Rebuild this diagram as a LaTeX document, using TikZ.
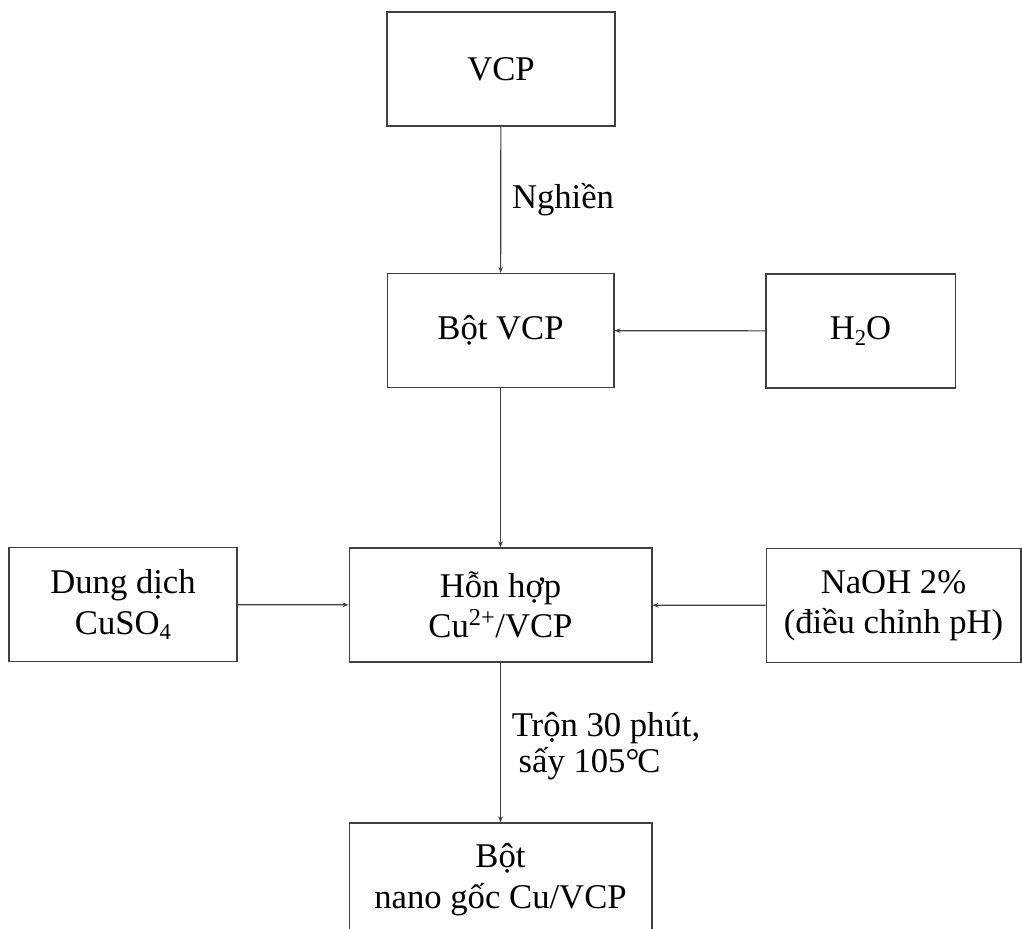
\documentclass[tikz,border=0pt]{standalone}
\usepackage{fontspec}
\setmainfont{Liberation Serif}
\usetikzlibrary{arrows.meta,positioning}
\newcommand{\chemsub}[1]{\raisebox{-0.32ex}{\fontsize{17}{17}\selectfont #1}}

\begin{document}
\begin{tikzpicture}[x=0.75pt, y=-0.75pt,
  every node/.style={font=\fontsize{26}{30.5}\selectfont},
  box/.style={draw=black!75, line width=1pt, align=center, inner sep=0pt, minimum height=85.5pt},
  link/.style={draw=black!75, line width=0.9pt, -{Stealth[length=4.5pt,width=3.5pt]}},
  lbl/.style={right, inner sep=0pt, align=left}]
  \useasboundingbox (0,0) rectangle (1022,929);
  % main column
  \node[box, minimum width=171pt] (vcp) at (501,69) {VCP};
  \node[box, minimum width=170pt] (bot) at (500.5,330.5) {Bột VCP};
  \node[box, minimum width=227pt] (hh) at (500.5,605) {Hỗn hợp\\Cu\textsuperscript{2+}/VCP};
  \node[box, minimum width=227pt] (nano) at (500.5,880) {Bột\\nano gốc Cu/VCP};
  % side inputs
  \node[box, minimum width=142pt] (h2o) at (860.5,331) {H\chemsub{2}O};
  \node[box, minimum width=171pt] (cuso) at (123,604.5) {Dung dịch\\CuSO\chemsub{4}};
  \node[box, minimum width=191pt] (naoh) at (893.5,605.5) {NaOH 2\%\\(điều chỉnh pH)};
  % connectors
  \draw[link] (vcp) -- node[lbl, xshift=8pt] {Nghiền} (bot);
  \draw[link] (h2o) -- (bot);
  \draw[link] (bot) -- (hh);
  \draw[link] (cuso) -- (hh);
  \draw[link] (naoh) -- (hh);
  \draw[link] (hh) -- node[lbl, xshift=8pt, yshift=-3pt, font=\fontsize{26}{27}\selectfont]
    {Trộn 30 phút,\\\hspace{0.2em}sấy 105°\kern-1.5pt C} (nano);
\end{tikzpicture}
\end{document}
